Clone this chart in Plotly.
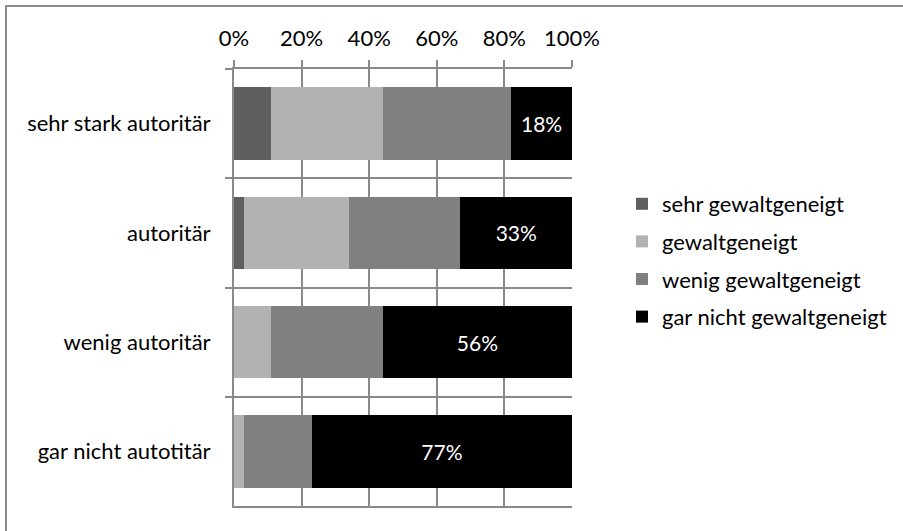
import plotly.graph_objects as go

# Survey shares by authoritarianism level (fractions of 1)
categories = ["sehr stark autoritär", "autoritär", "wenig autoritär", "gar nicht autotitär"]
series_names = ["sehr gewaltgeneigt", "gewaltgeneigt", "wenig gewaltgeneigt", "gar nicht gewaltgeneigt"]
sehr_gewaltgeneigt = [0.11, 0.03, 0.00, 0.00]
gewaltgeneigt = [0.33, 0.31, 0.11, 0.03]
wenig_gewaltgeneigt = [0.38, 0.33, 0.33, 0.20]
gar_nicht_gewaltgeneigt = [0.18, 0.33, 0.56, 0.77]
x_ticks = [0, 0.2, 0.4, 0.6, 0.8, 1.0]

colors = ["#5f5f5f", "#b2b2b2", "#808080", "#000000"]
values = [sehr_gewaltgeneigt, gewaltgeneigt, wenig_gewaltgeneigt, gar_nicht_gewaltgeneigt]

FONT = "Lato"
FS = 22
GRID = "#8a8a8a"

# plot-area geometry in pixels
W, H = 903, 531
L, R, T, B = 234, 572, 69, 506
pw, ph = R - L, B - T

fig = go.Figure()
for i, (name, vals, col) in enumerate(zip(series_names, values, colors)):
    is_last = i == len(series_names) - 1
    fig.add_trace(go.Bar(
        y=categories,
        x=vals,
        name=name,
        orientation="h",
        marker=dict(color=col, line=dict(width=0)),
        legendgroup=name,
        text=[f"{v:.0%}" for v in vals] if is_last else None,
        textposition="inside" if is_last else "none",
        insidetextanchor="middle",
        textangle=0,
        textfont=dict(color="white", family=FONT, size=FS - 1),
        hoverinfo="x+name",
    ))

fig.update_layout(
    width=W, height=H,
    barmode="stack",
    bargap=0.335,
    margin=dict(l=L, r=W - R, t=T, b=H - B, pad=0, autoexpand=False),
    paper_bgcolor="white",
    plot_bgcolor="white",
    font=dict(family=FONT, size=FS, color="#000000"),
    uniformtext=dict(mode=False),
    legend=dict(
        x=(622 - L) / pw, xanchor="left",
        y=(B - 183) / ph, yanchor="top",
        traceorder="grouped",
        tracegroupgap=6,
        font=dict(family=FONT, size=FS, color="#000000"),
        bgcolor="rgba(0,0,0,0)",
        borderwidth=0,
    ),
    xaxis=dict(
        side="top",
        range=[0, 1],
        tickvals=x_ticks,
        tickformat=".0%",
        ticks="outside", ticklen=7, tickcolor=GRID, tickwidth=2,
        showgrid=True, gridcolor=GRID, gridwidth=2,
        zeroline=False,
        showline=True, linecolor=GRID, linewidth=2, mirror=True,
        ticklabelstandoff=5,
        fixedrange=True,
    ),
    yaxis=dict(
        categoryorder="array", categoryarray=categories,
        autorange="reversed",
        tickson="boundaries",
        ticks="outside", ticklen=7, tickcolor=GRID, tickwidth=2,
        showgrid=True, gridcolor=GRID, gridwidth=2,
        showline=True, linecolor=GRID, linewidth=2,
        ticklabelstandoff=17,
        fixedrange=True,
    ),
    shapes=[dict(
        type="rect", xref="paper", yref="paper",
        x0=(6 - L) / pw, x1=(W + 10 - L) / pw,
        y0=(B - (H + 10)) / ph, y1=(B - 6) / ph,
        line=dict(color="#8c8c8c", width=2),
        fillcolor="rgba(0,0,0,0)",
        layer="below",
    )],
)

fig.write_html("out.html")
